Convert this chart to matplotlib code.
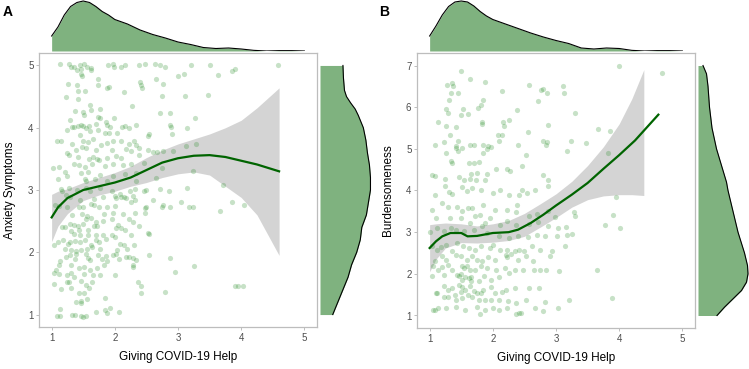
import matplotlib
matplotlib.use("Agg")
import matplotlib.pyplot as plt
import numpy as np

plt.rcParams['font.family'] = ['Liberation Sans', 'DejaVu Sans']

# ---- Panel A: giving help vs anxiety symptoms ----
a_points = np.array([
    (1.14, 5.02), (1.27, 5.03), (1.31, 4.98), (1.35, 4.97), (1.40, 4.93), (1.45, 5.0), (1.47, 4.95), (1.52, 5.02),
    (1.56, 4.97), (1.62, 4.96), (1.89, 5.0), (1.97, 5.02), (1.99, 4.98), (2.09, 4.97), (2.16, 5.0), (2.38, 5.0),
    (2.47, 5.02), (2.64, 5.03), (2.72, 5.0), (2.80, 4.97), (3.20, 5.0), (3.51, 5.0), (4.58, 5.0),
    (1.47, 4.86), (1.48, 4.83), (1.62, 4.93), (1.73, 4.78), (3.0, 4.83), (3.1, 4.86), (3.64, 4.85), (3.91, 4.95),
    (3.86, 4.91), (1.26, 4.71), (1.40, 4.69), (1.74, 4.68), (2.40, 4.73), (2.42, 4.69), (2.65, 4.79), (2.77, 4.71),
    (1.41, 4.59), (1.53, 4.59), (1.88, 4.63), (1.91, 4.66), (2.14, 4.58), (2.43, 4.64),
    (1.22, 4.49), (1.41, 4.46), (2.74, 4.51), (3.11, 4.51), (3.47, 4.52),
    (1.61, 4.36), (2.27, 4.35), (1.37, 4.27), (1.50, 4.26), (1.63, 4.28), (1.77, 4.30), (1.52, 4.20), (2.72, 4.23),
    (2.88, 4.24), (3.27, 4.15), (1.29, 4.12), (1.73, 4.17), (1.76, 4.15), (1.86, 4.10), (1.99, 4.15), (1.47, 4.05),
    (1.59, 4.02), (1.32, 4.01), (1.36, 4.01), (1.41, 4.03), (1.50, 4.02), (1.54, 4.0), (1.71, 4.06), (1.87, 4.04),
    (1.92, 4.01), (2.11, 4.01), (2.16, 4.02), (2.23, 3.99), (2.34, 4.05), (2.87, 4.04), (2.89, 4.01), (3.15, 3.99),
    (1.24, 3.96), (1.61, 3.94), (1.74, 3.97), (1.85, 3.92), (1.91, 3.91), (2.03, 3.91), (2.52, 3.87), (2.54, 3.90),
    (2.91, 3.90), (1.45, 3.89), (1.08, 3.79), (1.15, 3.78), (1.49, 3.79), (1.57, 3.77), (1.66, 3.82), (1.78, 3.73),
    (1.87, 3.75), (1.97, 3.78), (2.09, 3.78), (2.23, 3.74), (2.31, 3.79), (2.34, 3.72), (1.33, 3.74),
    (1.38, 3.65), (1.48, 3.69), (1.55, 3.67), (1.71, 3.64), (1.95, 3.65), (2.17, 3.66), (2.25, 3.63), (2.38, 3.68),
    (2.53, 3.64), (2.60, 3.61), (1.24, 3.60), (1.28, 3.56), (1.41, 3.53), (1.59, 3.50), (1.66, 3.53), (1.72, 3.50),
    (1.75, 3.48), (1.88, 3.52), (2.02, 3.55), (2.09, 3.52), (2.39, 3.56), (2.66, 3.61), (2.77, 3.62), (2.92, 3.62),
    (3.28, 3.74), (3.13, 3.70), (1.02, 3.35), (1.11, 3.37), (1.36, 3.42), (1.43, 3.40), (1.53, 3.37), (1.64, 3.41),
    (1.84, 3.38), (1.97, 3.41), (2.13, 3.40), (2.26, 3.42), (2.46, 3.43), (2.75, 3.35),
    (1.21, 3.29), (1.25, 3.23), (1.47, 3.28), (1.57, 3.29), (1.76, 3.24), (1.97, 3.23), (2.16, 3.26), (2.33, 3.28),
    (3.23, 3.30), (2.65, 3.20), (1.10, 3.18), (1.53, 3.17), (1.54, 3.15), (1.68, 3.18), (1.88, 3.15), (2.34, 3.15),
    (1.15, 3.02), (1.16, 2.99), (1.28, 3.04), (1.40, 3.0), (1.55, 3.03), (1.61, 2.99), (1.76, 3.04), (1.96, 2.98),
    (2.0, 2.91), (2.08, 2.93), (2.14, 2.89), (2.24, 2.99), (2.32, 3.02), (2.46, 2.99), (2.5, 3.0), (2.71, 3.02),
    (2.85, 2.99), (3.14, 3.04), (3.71, 3.08), (1.23, 2.92), (1.29, 2.88), (1.45, 2.84), (1.67, 2.85), (1.82, 2.88),
    (2.02, 2.87), (2.09, 2.88), (2.17, 2.87), (2.29, 2.91), (2.32, 2.84), (2.60, 2.84),
    (1.05, 2.76), (1.12, 2.74), (1.24, 2.73), (1.44, 2.73), (1.5, 2.73), (1.63, 2.77), (1.67, 2.76), (1.75, 2.73),
    (1.87, 2.72), (2.0, 2.74), (2.26, 2.80), (2.47, 2.71), (2.5, 2.73), (2.75, 2.72), (2.76, 2.76), (2.88, 2.73),
    (3.04, 2.80), (3.17, 2.73), (3.23, 2.73), (3.86, 2.80), (4.05, 2.76), (3.66, 2.66),
    (1.33, 2.60), (1.48, 2.61), (1.56, 2.58), (1.63, 2.55), (1.83, 2.62), (1.97, 2.63), (2.13, 2.61), (2.32, 2.63),
    (2.48, 2.63), (1.17, 2.40), (1.21, 2.40), (1.29, 2.46), (1.35, 2.44), (1.41, 2.42), (1.5, 2.46), (1.55, 2.53),
    (1.71, 2.49), (1.81, 2.51), (1.95, 2.54), (2.05, 2.44), (2.23, 2.54), (2.28, 2.49),
    (1.31, 2.34), (1.43, 2.36), (1.58, 2.36), (1.67, 2.42), (1.72, 2.42), (2.02, 2.39), (2.09, 2.39), (2.16, 2.35),
    (2.38, 2.42), (1.36, 2.29), (1.45, 2.27), (1.57, 2.27), (1.71, 2.28), (1.75, 2.17), (1.82, 2.27), (1.95, 2.28),
    (2.0, 2.25), (2.26, 2.27), (2.53, 2.31), (2.54, 2.29),
    (1.10, 2.16), (1.18, 2.20), (1.26, 2.14), (1.29, 2.17), (1.37, 2.18), (1.45, 2.16), (1.53, 2.20), (1.63, 2.12),
    (1.71, 2.20), (1.86, 2.22), (2.08, 2.14), (2.30, 2.12), (1.04, 2.12), (1.21, 2.06), (1.31, 2.04), (1.38, 2.02),
    (1.46, 2.04), (1.56, 2.06), (1.64, 2.09), (1.76, 2.06), (2.03, 2.04), (2.15, 2.11), (2.19, 2.05),
    (1.29, 1.96), (1.39, 1.98), (1.55, 1.98), (1.74, 1.96), (1.86, 1.94), (1.97, 1.95), (2.02, 1.98), (2.22, 1.93),
    (2.28, 1.91), (2.54, 1.96), (1.13, 1.86), (1.22, 1.93), (1.37, 1.89), (1.58, 1.91), (1.61, 1.87), (1.79, 1.89),
    (1.88, 1.86), (2.07, 1.89), (2.18, 1.93), (2.28, 1.80), (2.33, 1.87), (2.88, 1.91),
    (1.12, 1.80), (1.30, 1.79), (1.44, 1.75), (1.51, 1.76), (1.60, 1.71), (1.72, 1.75), (1.83, 1.80), (2.29, 1.76),
    (3.26, 1.78), (1.03, 1.67), (1.07, 1.71), (1.11, 1.65), (1.24, 1.64), (1.30, 1.67), (1.35, 1.60), (1.52, 1.65),
    (1.66, 1.64), (1.76, 1.63), (2.0, 1.64), (2.95, 1.68),
    (1.03, 1.49), (1.24, 1.53), (1.27, 1.52), (1.47, 1.54), (1.54, 1.47), (1.64, 1.53), (2.36, 1.53), (2.42, 1.46),
    (3.90, 1.46), (3.95, 1.46), (4.03, 1.46), (1.15, 1.41), (1.30, 1.42), (1.43, 1.35), (1.51, 1.35), (1.59, 1.43),
    (2.42, 1.34), (2.79, 1.37), (1.39, 1.20), (1.47, 1.21), (1.47, 1.18), (1.56, 1.25), (1.84, 1.27),
    (1.14, 1.09), (1.71, 1.04), (1.84, 1.08), (1.87, 1.03), (1.92, 1.11), (2.07, 1.04),
    (1.08, 0.97), (1.14, 0.97), (1.32, 1.0), (1.37, 0.99), (1.46, 0.97), (1.50, 0.96), (1.54, 0.98),
])

a_fit_x = [1.0, 1.1, 1.25, 1.5, 1.75, 2.0, 2.25, 2.5, 2.75, 3.0, 3.25, 3.5, 3.75, 4.0, 4.25, 4.6]
a_fit_y = [2.56, 2.72, 2.87, 3.0, 3.06, 3.12, 3.2, 3.32, 3.44, 3.51, 3.55, 3.56, 3.53, 3.47, 3.41, 3.3]
a_fit_lo = [2.17, 2.42, 2.62, 2.83, 2.92, 2.98, 3.06, 3.12, 3.2, 3.26, 3.29, 3.24, 3.06, 2.88, 2.6, 1.95]
a_fit_hi = [2.93, 2.98, 3.02, 3.12, 3.2, 3.28, 3.38, 3.52, 3.64, 3.74, 3.82, 3.9, 4.0, 4.12, 4.32, 4.64]

# marginal densities (relative height)
a_dens_x = [1.0, 1.1, 1.2, 1.3, 1.4, 1.5, 1.6, 1.7, 1.8, 1.9, 2.0, 2.2, 2.4, 2.6, 2.8, 3.0, 3.2, 3.4, 3.6, 3.8,
            4.0, 4.2, 4.4, 4.6, 4.8, 5.0]
a_dens_xh = [0.30, 0.48, 0.72, 0.89, 0.97, 1.0, 0.97, 0.89, 0.79, 0.72, 0.63, 0.54, 0.42, 0.33, 0.26, 0.18, 0.13,
             0.07, 0.05, 0.06, 0.04, 0.013, 0.0, 0.007, 0.007, 0.0]
a_dens_y = [1.0, 1.2, 1.4, 1.6, 1.8, 2.0, 2.2, 2.4, 2.6, 2.8, 3.0, 3.2, 3.4, 3.6, 3.8, 4.0, 4.2, 4.3, 4.4, 4.5,
            4.6, 4.8, 5.0]
a_dens_yh = [0.25, 0.35, 0.45, 0.55, 0.62, 0.72, 0.79, 0.82, 0.91, 0.95, 0.99, 0.99, 0.97, 0.93, 0.9, 0.85, 0.75,
             0.69, 0.6, 0.52, 0.48, 0.46, 0.45]

# ---- Panel B: giving help vs burdensomeness ----
b_points = np.array([
    (4.0, 6.98), (4.68, 6.83), (1.5, 6.88), (1.64, 6.68), (1.87, 6.61), (1.28, 6.54), (1.35, 6.58), (1.37, 6.51),
    (2.58, 6.53), (2.77, 6.42), (2.79, 6.43), (2.85, 6.35), (3.11, 6.5), (3.13, 6.35), (1.34, 6.35), (1.45, 6.35),
    (2.15, 6.38), (2.72, 6.14), (1.3, 6.16), (1.84, 6.18), (1.82, 6.04), (1.77, 5.99), (1.26, 5.96), (1.53, 5.96),
    (1.29, 5.86), (1.5, 5.82), (1.61, 5.84), (2.38, 5.94), (3.3, 5.87), (1.13, 5.65), (1.26, 5.56), (1.41, 5.53),
    (1.83, 5.65), (1.83, 5.6), (2.16, 5.65), (2.18, 5.54), (2.26, 5.69), (2.87, 5.58), (3.67, 5.48), (3.85, 5.42),
    (1.33, 5.34), (2.08, 5.32), (2.15, 5.34), (2.55, 5.4), (1.09, 5.1), (1.23, 5.16), (1.45, 5.18), (1.42, 5.06),
    (1.42, 5.01), (1.51, 5.02), (1.45, 4.94), (1.26, 4.9), (1.64, 5.1), (1.71, 5.09), (1.84, 5.1), (1.92, 5.06),
    (1.97, 5.05), (1.9, 5.0), (1.85, 4.9), (2.09, 5.18), (2.4, 5.08), (2.79, 5.19), (2.86, 5.16), (2.84, 5.09),
    (3.23, 5.18), (3.17, 4.94), (3.47, 5.13), (3.82, 4.89), (2.53, 4.84), (1.34, 4.71), (1.35, 4.67), (1.63, 4.65),
    (1.71, 4.67), (1.78, 4.69), (2.46, 4.6), (2.23, 4.51), (2.27, 4.47), (2.05, 4.52), (1.04, 4.37), (1.09, 4.35),
    (1.46, 4.32), (1.65, 4.39), (1.75, 4.43), (1.91, 4.39), (2.79, 4.36),
    (1.25, 4.28), (1.54, 4.26), (1.64, 4.28), (1.74, 4.24), (1.88, 4.26), (2.88, 4.26),
    (1.09, 3.9), (1.25, 4.1), (1.31, 3.97), (1.36, 3.92), (1.52, 4.08), (1.59, 3.98), (1.67, 4.06), (1.81, 4.0),
    (2.0, 3.95), (2.11, 4.0), (2.25, 3.89), (2.46, 4.02), (2.42, 3.9), (2.54, 3.94), (2.66, 4.0), (2.88, 4.1),
    (3.95, 3.85), (1.03, 3.52), (1.2, 3.69), (1.29, 3.6), (1.43, 3.61), (1.52, 3.5), (1.61, 3.58), (1.67, 3.58),
    (1.72, 3.38), (1.79, 3.42), (1.85, 3.66), (2.03, 3.54), (2.22, 3.54), (2.36, 3.49), (2.38, 3.65), (2.57, 3.38),
    (2.7, 3.44), (2.88, 3.5), (2.98, 3.36), (3.28, 3.49), (3.3, 3.38), (3.9, 3.4), (3.78, 3.17), (4.02, 3.1),
    (1.1, 3.34), (1.33, 3.33), (1.49, 3.34), (1.64, 3.22), (1.87, 3.22), (1.96, 3.34), (2.11, 3.16), (2.22, 3.26),
    (2.36, 3.17), (2.57, 3.2), (2.72, 3.24), (2.88, 3.14), (3.03, 3.1), (3.16, 3.12),
    (1.0, 3.0), (1.12, 3.1), (1.22, 3.02), (1.34, 3.1), (1.41, 3.04), (1.54, 3.02), (1.7, 3.06), (1.83, 3.14),
    (1.91, 2.98), (2.09, 2.9), (2.25, 2.85), (2.4, 2.9), (2.56, 2.88), (2.7, 2.94), (2.82, 2.9), (3.02, 2.9),
    (3.18, 2.93), (3.25, 2.96), (1.04, 2.66), (1.12, 2.56), (1.18, 2.64), (1.26, 2.7), (1.35, 2.54), (1.43, 2.74),
    (1.53, 2.66), (1.62, 2.62), (1.72, 2.58), (1.82, 2.66), (1.96, 2.62), (2.0, 2.7), (2.11, 2.56), (2.23, 2.58),
    (2.35, 2.54), (2.41, 2.58), (2.49, 2.54), (2.62, 2.66), (2.74, 2.58), (2.94, 2.54), (3.15, 2.66),
    (1.08, 2.32), (1.2, 2.42), (1.26, 2.34), (1.41, 2.46), (1.5, 2.42), (1.59, 2.34), (1.67, 2.42), (1.75, 2.34),
    (1.83, 2.3), (1.92, 2.4), (2.03, 2.34), (2.21, 2.46), (2.22, 2.4), (2.28, 2.48), (2.4, 2.34), (2.53, 2.42),
    (2.63, 2.3), (2.91, 2.42), (1.05, 2.18), (1.13, 2.1), (1.2, 2.16), (1.29, 2.21), (1.35, 2.08), (1.52, 2.18),
    (1.54, 2.13), (1.59, 2.18), (1.64, 2.08), (1.72, 2.1), (1.82, 2.18), (1.91, 2.14), (2.05, 2.08), (2.19, 2.14),
    (2.25, 2.02), (2.35, 2.1), (2.48, 2.08), (2.65, 2.1), (2.74, 2.08), (2.84, 2.08), (3.04, 2.06), (3.65, 2.08),
    (1.03, 1.94), (1.22, 1.97), (1.43, 1.98), (1.47, 1.94), (1.5, 2.0), (1.52, 1.86), (1.56, 1.92), (1.62, 1.89),
    (1.65, 1.92), (1.66, 1.82), (1.78, 1.82), (1.86, 1.94), (1.97, 1.84), (2.1, 1.92),
    (1.1, 1.54), (1.12, 1.54), (1.22, 1.7), (1.29, 1.6), (1.36, 1.66), (1.4, 1.5), (1.46, 1.74), (1.49, 1.57),
    (1.52, 1.68), (1.56, 1.6), (1.61, 1.5), (1.64, 1.7), (1.7, 1.58), (1.75, 1.54), (1.81, 1.54), (1.85, 1.6),
    (1.97, 1.68), (2.04, 1.54), (2.15, 1.57), (2.21, 1.6), (2.35, 1.65), (2.57, 1.65), (2.73, 1.65),
    (1.22, 1.44), (1.29, 1.44), (1.41, 1.38), (1.51, 1.42), (1.67, 1.44), (1.78, 1.38), (1.88, 1.36), (1.97, 1.36),
    (2.09, 1.38), (2.24, 1.34), (2.36, 1.3), (2.53, 1.36), (2.83, 1.33), (3.2, 1.38), (3.89, 1.42),
    (1.05, 1.12), (1.09, 1.14), (1.14, 1.17), (1.26, 1.17), (1.41, 1.2), (1.56, 1.12), (1.75, 1.2), (1.79, 1.04),
    (1.88, 1.14), (2.01, 1.17), (2.1, 1.14), (2.22, 1.17), (2.36, 1.04), (2.41, 1.06), (2.45, 1.06), (2.66, 1.17),
    (2.79, 1.1), (3.03, 1.17),
])

b_fit_x = [1.0, 1.1, 1.2, 1.33, 1.5, 1.6, 1.75, 2.0, 2.25, 2.4, 2.6, 2.8, 3.0, 3.25, 3.5, 3.75, 4.0, 4.25, 4.62]
b_fit_y = [2.62, 2.78, 2.9, 2.98, 2.98, 2.9, 2.91, 2.98, 3.0, 3.06, 3.22, 3.42, 3.64, 3.9, 4.18, 4.52, 4.85, 5.2, 5.82]
b_band_x = [1.0, 1.1, 1.25, 1.5, 1.75, 2.0, 2.25, 2.5, 2.75, 3.0, 3.25, 3.5, 3.75, 4.0, 4.2, 4.39]
b_band_lo = [2.05, 2.35, 2.62, 2.75, 2.74, 2.76, 2.8, 2.9, 3.12, 3.35, 3.6, 3.78, 3.87, 3.9, 3.9, 3.88]
b_band_hi = [3.18, 3.2, 3.22, 3.2, 3.15, 3.2, 3.28, 3.45, 3.68, 3.92, 4.22, 4.6, 5.05, 5.6, 6.2, 6.9]

b_dens_x = [1.0, 1.1, 1.2, 1.3, 1.4, 1.5, 1.6, 1.7, 1.8, 1.9, 2.0, 2.2, 2.4, 2.6, 2.8, 3.0, 3.2, 3.4, 3.6, 3.8,
            4.0, 4.2, 4.4, 4.6, 4.8, 5.0]
b_dens_xh = [0.30, 0.50, 0.72, 0.89, 0.98, 1.0, 0.98, 0.90, 0.79, 0.70, 0.63, 0.54, 0.45, 0.36, 0.28, 0.21, 0.15,
             0.06, 0.04, 0.06, 0.05, 0.013, 0.0, 0.007, 0.007, 0.0]
b_dens_y = [1.0, 1.2, 1.4, 1.6, 1.8, 2.0, 2.2, 2.5, 3.0, 3.5, 4.0, 4.2, 4.6, 5.0, 5.5, 6.0, 6.5, 6.8, 7.0]
b_dens_yh = [0.38, 0.53, 0.70, 0.87, 0.97, 1.0, 0.99, 0.93, 0.80, 0.70, 0.60, 0.57, 0.47, 0.37, 0.28, 0.23, 0.20,
             0.17, 0.10]

W, H = 749, 369
POINT_COLOR = '#228B22'
LINE_COLOR = '#006400'
BAND_COLOR = '#d4d4d4'
DENS_COLOR = '#7fb27f'
FRAME_COLOR = '#bdbdbd'


def frac(x0, y0, x1, y1):
    # pixel box (top-left origin) -> figure fraction rect
    return [x0 / W, 1 - y1 / H, (x1 - x0) / W, (y1 - y0) / H]


def draw_panel(fig, main_box, top_box, right_box, pts, fit, band, dens_x, dens_y, ylim, yticks, ylabel, tag,
               tag_pos, ylabel_x):
    ax = fig.add_axes(frac(*main_box))
    ax.fill_between(band[0], band[1], band[2], color=BAND_COLOR, lw=0, zorder=1)
    ax.scatter(pts[:, 0], pts[:, 1], s=14, color=POINT_COLOR, alpha=0.25, lw=0, zorder=2)
    ax.plot(fit[0], fit[1], color=LINE_COLOR, lw=1.6, zorder=3)
    ax.set_xlim(0.8, 5.2)
    ax.set_ylim(*ylim)
    ax.set_xticks([1, 2, 3, 4, 5])
    ax.set_yticks(yticks)
    for s in ax.spines.values():
        s.set_color(FRAME_COLOR)
        s.set_linewidth(0.9)
    ax.tick_params(colors='#4d4d4d', labelsize=7, length=2.5, width=0.7, color=FRAME_COLOR, pad=1.5)
    ax.set_xlabel("Giving COVID-19 Help", fontsize=8.5, labelpad=6)
    fig.text(ylabel_x / W, 1 - ((main_box[1] + main_box[3]) / 2) / H, ylabel, rotation=90, fontsize=8.5,
             ha='center', va='center')

    axt = fig.add_axes(frac(*top_box))
    axt.fill_between(dens_x[0], 0, dens_x[1], color=DENS_COLOR, lw=0)
    axt.plot(dens_x[0], dens_x[1], color='black', lw=0.8)
    axt.set_xlim(0.8, 5.2)
    axt.set_ylim(0, 1.02)
    axt.axis('off')

    axr = fig.add_axes(frac(*right_box))
    axr.fill_betweenx(dens_y[0], 0, dens_y[1], color=DENS_COLOR, lw=0)
    axr.plot(dens_y[1], dens_y[0], color='black', lw=0.8)
    axr.set_ylim(*ylim)
    axr.set_xlim(0, 1.02)
    axr.axis('off')

    fig.text(tag_pos[0] / W, 1 - tag_pos[1] / H, tag, fontsize=10, fontweight='bold', ha='center', va='center')


fig = plt.figure(figsize=(W / 100, H / 100), dpi=100)

draw_panel(fig, (39, 53, 317, 327), (39, 0, 317, 51), (320, 53, 372, 327),
           a_points, (a_fit_x, a_fit_y), (a_fit_x, a_fit_lo, a_fit_hi),
           (a_dens_x, a_dens_xh), (a_dens_y, a_dens_yh),
           (0.8, 5.2), [1, 2, 3, 4, 5], "Anxiety Symptoms", "A", (8, 12), 10)

draw_panel(fig, (417, 53, 695, 328), (417, 0, 695, 51), (698, 53, 749, 328),
           b_points, (b_fit_x, b_fit_y), (b_band_x, b_band_lo, b_band_hi),
           (b_dens_x, b_dens_xh), (b_dens_y, b_dens_yh),
           (0.7, 7.3), [1, 2, 3, 4, 5, 6, 7], "Burdensomeness", "B", (384, 12), 388)

fig.savefig("out.png", dpi=100)
